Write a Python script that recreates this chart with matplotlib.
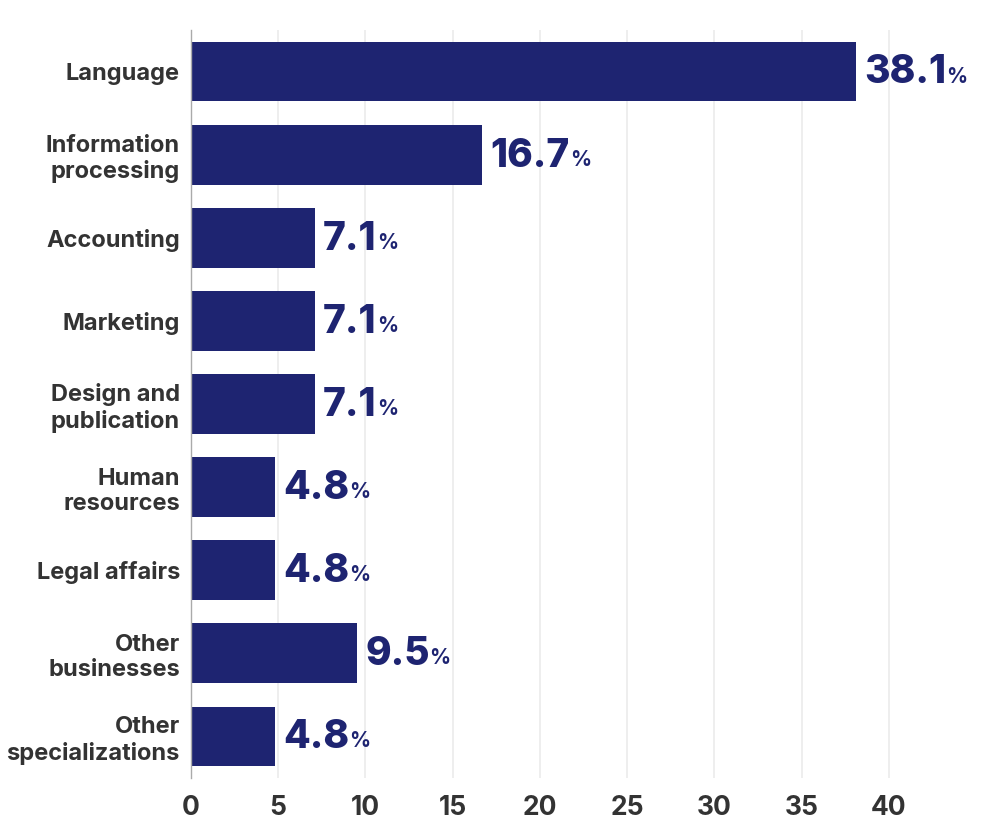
"""Horizontal bar chart of specializations (share in %)."""
import matplotlib
matplotlib.use('Agg')
from matplotlib import pyplot as plt

plt.rcParams['font.family'] = ['Inter', 'DejaVu Sans']

# Data
categories = ['Language', 'Information\nprocessing', 'Accounting', 'Marketing',
              'Design and\npublication', 'Human\nresources', 'Legal affairs',
              'Other\nbusinesses', 'Other\nspecializations']
values = [38.1, 16.7, 7.1, 7.1, 7.1, 4.8, 4.8, 9.5, 4.8]
x_ticks = [0, 5, 10, 15, 20, 25, 30, 35, 40]

bar_color = '#1e2471'
text_color = '#333333'

fig = plt.figure(figsize=(10, 8.4), dpi=100)
ax = fig.add_axes([0.191, 0.0738, 0.785, 0.8905])

pos = list(range(len(categories)))
ax.barh(pos, values, height=0.72, color=bar_color, zorder=3)
ax.set_ylim(len(categories) - 0.5, -0.5)
ax.set_xlim(0, 45)

ax.set_yticks(pos)
ax.set_yticklabels(categories, fontsize=17, fontweight='bold', color=text_color,
                   linespacing=1.2)
ax.set_xticks(x_ticks)
ax.set_xticklabels([str(t) for t in x_ticks], fontsize=19, fontweight='bold',
                   color=text_color)
ax.tick_params(axis='both', length=0)
ax.tick_params(axis='y', pad=8)
ax.tick_params(axis='x', pad=12)

ax.grid(axis='x', color='#ebebeb', linewidth=1.2, zorder=0)
for side in ['top', 'right', 'bottom']:
    ax.spines[side].set_visible(False)
ax.spines['left'].set_color('#aaaaaa')
ax.spines['left'].set_linewidth(1)
ax.spines['left'].set_zorder(4)

# Value labels: big number + small percent sign
for i, v in enumerate(values):
    num = ax.annotate(f'{v}', xy=(v, i), xytext=(6, -1), textcoords='offset points',
                      va='center', ha='left', fontsize=28, fontweight='heavy',
                      color=bar_color)
    ax.annotate('%', xy=(1, 0), xycoords=num, xytext=(0, 3.5),
                textcoords='offset points', va='bottom', ha='left',
                fontsize=15, fontweight='bold', color=bar_color)

fig.savefig('out.png', dpi=100)
